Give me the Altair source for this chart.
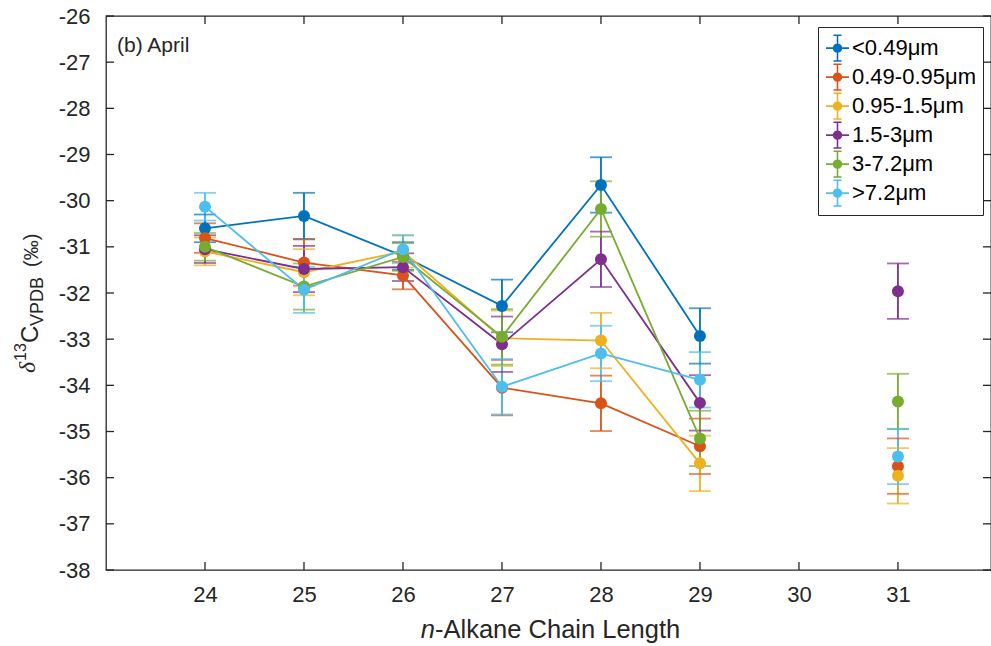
import altair as alt
import pandas as pd

# ---- data ----
chain = [24, 25, 26, 27, 28, 29, 31]
series = ["<0.49μm", "0.49-0.95μm", "0.95-1.5μm", "1.5-3μm", "3-7.2μm", ">7.2μm"]
colors = ["#0072BD", "#D95319", "#EDB120", "#7E2F8E", "#77AC30", "#4DBEEE"]

vals_blue = [-30.60, -30.33, -31.20, -32.28, -29.66, -32.93, None]
vals_red = [-30.81, -31.34, -31.62, -34.05, -34.39, -35.32, -35.75]
vals_yellow = [-31.10, -31.55, -31.10, -32.98, -33.03, -35.69, -35.96]
vals_purple = [-31.05, -31.48, -31.44, -33.11, -31.27, -34.38, -31.96]
vals_green = [-31.00, -31.86, -31.22, -32.95, -30.18, -35.15, -34.35]
vals_cyan = [-30.13, -31.93, -31.05, -34.03, -33.31, -33.88, -35.54]

err_blue = [0.30, 0.50, 0.30, 0.57, 0.60, 0.60, None]
err_red = [0.32, 0.50, 0.30, 0.60, 0.60, 0.60, 0.60]
err_yellow = [0.30, 0.50, 0.35, 0.60, 0.60, 0.60, 0.60]
err_purple = [0.30, 0.50, 0.30, 0.60, 0.60, 0.60, 0.60]
err_green = [0.30, 0.50, 0.30, 0.60, 0.60, 0.60, 0.60]
err_cyan = [0.30, 0.50, 0.30, 0.60, 0.60, 0.60, 0.60]

y_ticks = list(range(-26, -39, -1))
x_ticks = [24, 25, 26, 27, 28, 29, 30, 31]

all_vals = [vals_blue, vals_red, vals_yellow, vals_purple, vals_green, vals_cyan]
all_errs = [err_blue, err_red, err_yellow, err_purple, err_green, err_cyan]

rows = []
for s, vs, es in zip(series, all_vals, all_errs):
    for x, v, e in zip(chain, vs, es):
        if v is None:
            continue
        rows.append({"series": s, "x": x, "y": v, "lo": v - e, "hi": v + e})
df = pd.DataFrame(rows)

W, H = 885, 554
xscale = alt.Scale(domain=[23, 31.94], nice=False, zero=False)
yscale = alt.Scale(domain=[-38, -26], nice=False, zero=False)
cscale = alt.Scale(domain=series, range=colors)

FONT = "Liberation Sans"
TXT = "#262626"
LW = 1.8

X = alt.X("x:Q", scale=xscale, axis=alt.Axis(values=x_ticks, domain=False, ticks=False, grid=False,
                                              labelFontSize=22, labelFont=FONT, labelColor=TXT,
                                              labelPadding=14, title=None,
                                              labelExpr="'' + datum.value"))
Y = alt.Y("y:Q", scale=yscale, axis=alt.Axis(values=y_ticks, domain=False, ticks=False, grid=False,
                                              labelFontSize=22, labelFont=FONT, labelColor=TXT,
                                              labelPadding=16, title=None,
                                              labelExpr="'' + datum.value"))

# legend glyph: errorbar line with caps and a dot (concentric rings so a stroke looks filled)
sym = ("M-1,0H1M0,-1.12V1.12M-0.35,-1.12H0.35M-0.35,1.12H0.35"
       "M0.34,0A0.34,0.34,0,1,1,-0.34,0A0.34,0.34,0,1,1,0.34,0"
       "M0.24,0A0.24,0.24,0,1,1,-0.24,0A0.24,0.24,0,1,1,0.24,0"
       "M0.14,0A0.14,0.14,0,1,1,-0.14,0A0.14,0.14,0,1,1,0.14,0"
       "M0.05,0A0.05,0.05,0,1,1,-0.05,0A0.05,0.05,0,1,1,0.05,0")
leg = alt.Legend(title=None, orient="none", legendX=712, legendY=11,
                 symbolType=sym, symbolSize=529, symbolStrokeWidth=1.6, symbolOpacity=1,
                 labelFont=FONT, labelFontSize=22, labelColor="#000000",
                 labelOffset=2, rowPadding=0, clipHeight=28.3, padding=7,
                 strokeColor="#262626", fillColor="white")

C = alt.Color("series:N", scale=cscale, legend=leg)

base = alt.Chart(df)

bars = base.mark_rule(strokeWidth=LW).encode(
    x=alt.X("x:Q", scale=xscale),
    y=alt.Y("lo:Q", scale=yscale),
    y2="hi:Q",
    color=C,
)
cap_lo = base.mark_tick(orient="horizontal", size=22, thickness=LW).encode(
    x=alt.X("x:Q", scale=xscale),
    y=alt.Y("lo:Q", scale=yscale),
    color=C,
)
cap_hi = base.mark_tick(orient="horizontal", size=22, thickness=LW).encode(
    x=alt.X("x:Q", scale=xscale),
    y=alt.Y("hi:Q", scale=yscale),
    color=C,
)
lines = base.transform_filter("datum.x <= 29").mark_line(strokeWidth=LW).encode(
    x=alt.X("x:Q", scale=xscale),
    y=alt.Y("y:Q", scale=yscale),
    color=C,
    order="x:Q",
)
points = base.mark_point(filled=True, size=144, opacity=1).encode(
    x=X,
    y=Y,
    color=C,
)

# inward ticks on all four sides
ytdf = pd.DataFrame({"v": y_ticks})
xtdf = pd.DataFrame({"v": x_ticks})
tk = dict(color=TXT, strokeWidth=1.3)
left_t = alt.Chart(ytdf).mark_rule(**tk).encode(
    y=alt.Y("v:Q", scale=yscale), x=alt.value(0), x2=alt.value(8))
right_t = alt.Chart(ytdf).mark_rule(**tk).encode(
    y=alt.Y("v:Q", scale=yscale), x=alt.value(W - 8), x2=alt.value(W))
bot_t = alt.Chart(xtdf).mark_rule(**tk).encode(
    x=alt.X("v:Q", scale=xscale), y=alt.value(H), y2=alt.value(H - 8))
top_t = alt.Chart(xtdf).mark_rule(**tk).encode(
    x=alt.X("v:Q", scale=xscale), y=alt.value(0), y2=alt.value(8))

one = pd.DataFrame({"a": [0]})


def txt(text, x, y, size, font=FONT, style="normal", align="left", angle=0):
    return alt.Chart(one).mark_text(text=text, font=font, fontSize=size, fontStyle=style,
                                    align=align, baseline="alphabetic", angle=angle,
                                    color=TXT).encode(x=alt.value(x), y=alt.value(y))


annots = [
    txt("(b) April", 11, 36, 21),
    # x title
    txt("n", 329, 622, 25.5, style="italic", align="right"),
    txt("-Alkane Chain Length", 329, 622, 25.5),
    # y title pieces (rotated)
    txt("δ", -71, 357, 24, font="Liberation Serif", style="italic", angle=270),
    txt("13", -80, 345, 16, angle=270),
    txt("C", -68, 327, 24, angle=270),
    txt("VPDB", -63, 310, 18, angle=270),
    txt("(‰)", -68, 251, 20, angle=270),
]

chart = alt.layer(bars, cap_lo, cap_hi, lines, points, left_t, right_t, bot_t, top_t, *annots).properties(
    width=W, height=H,
    padding={"left": 106, "top": 16, "right": 0, "bottom": 76},
    autosize=alt.AutoSizeParams(type="none"),
    background="white",
).configure_view(
    stroke=TXT, strokeWidth=1.3
)

chart.save("out.html", embed_options={"renderer": "svg", "actions": False})
